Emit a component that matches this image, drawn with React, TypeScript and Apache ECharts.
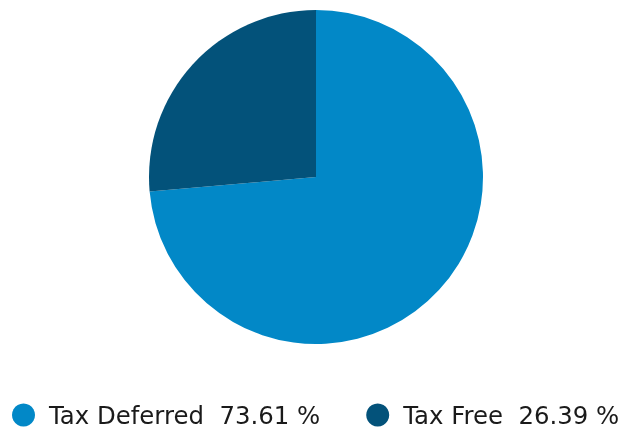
import React, { useEffect, useRef } from "react";
import * as echarts from "echarts";

const categories = ["Tax Deferred", "Tax Free"];
const values = [73.61, 26.39];
const colors = ["#0288C7", "#03527A"];

export default function App() {
  const ref = useRef<HTMLDivElement>(null);
  useEffect(() => {
    if (!ref.current) return;
    const chart = echarts.init(ref.current, null, { renderer: "svg" });
    const data = categories.map((name, i) => ({
      name,
      value: values[i],
      itemStyle: { color: colors[i] },
    }));
    chart.setOption({
      animation: false,
      legend: {
        left: 12,
        top: 403,
        padding: 0,
        itemGap: 46,
        itemWidth: 23,
        itemHeight: 23,
        icon: "circle",
        selectedMode: false,
        data: categories,
        formatter: (name: string) => {
          const i = categories.indexOf(name);
          return name + "  " + values[i].toFixed(2) + " %";
        },
        textStyle: {
          fontFamily: "DejaVu Sans",
          fontSize: 24.4,
          color: "#1a1a1a",
          padding: [20, 0, 0, 9],
        },
      },
      series: [
        {
          type: "pie",
          center: [316, 177],
          radius: [0, 167],
          startAngle: 90,
          clockwise: true,
          label: { show: false },
          labelLine: { show: false },
          emphasis: { disabled: true },
          itemStyle: { borderWidth: 0 },
          data,
        },
      ],
    });
    return () => chart.dispose();
  }, []);
  return (
    <div
      ref={ref}
      style={{ position: "fixed", left: 0, top: 0, width: 627, height: 435 }}
    />
  );
}
